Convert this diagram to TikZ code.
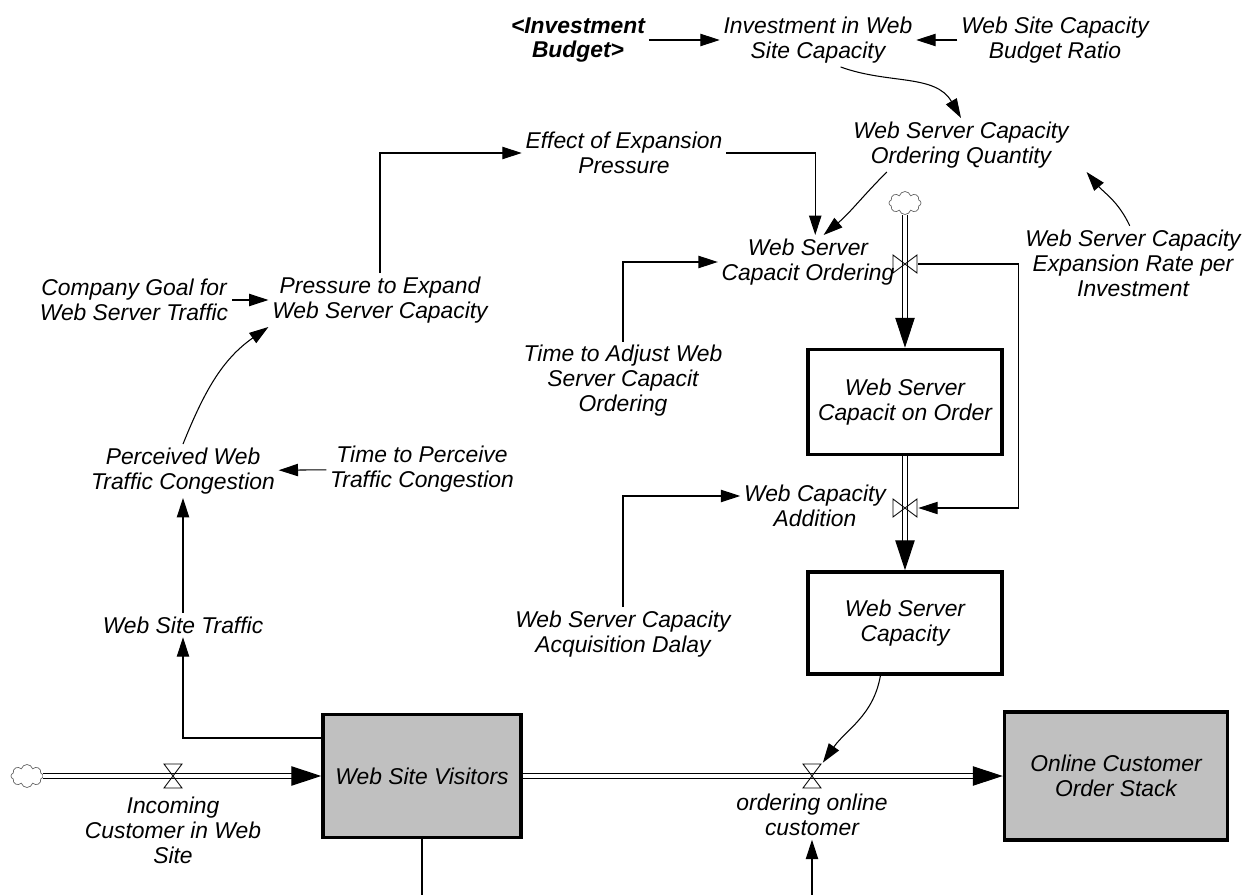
\documentclass[tikz,border=0pt]{standalone}
\usepackage{fontspec}
\setmainfont{Liberation Sans}
\usetikzlibrary{arrows.meta,shapes.symbols,calc}
\definecolor{stockgray}{RGB}{192,192,192}
\tikzstyle{var}=[
        font = \fontsize{13}{14.2}\selectfont\itshape,
        align = center,
        inner sep = 2pt
    ]
\tikzstyle{stock}=[
        draw,
        line width = 2pt,
        font = \fontsize{13}{14.2}\selectfont\itshape,
        align = center,
        fill = white
    ]
\tikzstyle{level}=[
        stock,
        fill = stockgray
    ]
\tikzstyle{link}=[
        line width = 0.6pt,
        -{Triangle[length=11pt,width=7pt]}
    ]
\tikzstyle{pipe}=[
        double,
        double distance = 2.4pt,
        line width = 0.6pt,
        -{Triangle[length=17pt,width=11pt]}
    ]
\tikzstyle{source}=[
        draw = black!60,
        cloud,
        cloud puffs = 8,
        aspect = 1.4,
        minimum width = 0.64cm,
        minimum height = 0.46cm,
        inner sep = 0pt
    ]
\tikzstyle{hvalve}=[
        minimum width = 0.42cm,
        minimum height = 0.52cm,
        inner sep = 0pt,
        path picture = {\draw[line width=0.5pt] (path picture bounding box.center)
            +(-9,-12) -- +(9,-12) -- +(-9,12) -- +(9,12) -- cycle;}
    ]
\tikzstyle{vvalve}=[
        minimum width = 0.52cm,
        minimum height = 0.42cm,
        inner sep = 0pt,
        path picture = {\draw[line width=0.5pt] (path picture bounding box.center)
            +(-12,-9) -- +(-12,9) -- +(12,-9) -- +(12,9) -- cycle;}
    ]

\begin{document}
\begin{tikzpicture}[x=0.02cm, y=-0.02cm]
        \useasboundingbox (0,0) rectangle (1255,895);

        % auxiliaries
        \node[var, font=\fontsize{13}{14.2}\selectfont\bfseries\itshape] (budget) at (578,40) {<Investment\\Budget>};
        \node[var] (invest) at (818,40) {Investment in Web\\Site Capacity};
        \node[var] (ratio) at (1055,40) {Web Site Capacity\\Budget Ratio};
        \node[var] (oq) at (961,145) {Web Server Capacity\\Ordering Quantity};
        \node[var] (effect) at (624,153) {Effect of Expansion\\Pressure};
        \node[var] (ord) at (808,262) {Web Server\\Capacit Ordering};
        \node[var] (exp) at (1133,263) {Web Server Capacity\\Expansion Rate per\\Investment};
        \node[var] (adj) at (623,381) {Time to Adjust Web\\Server Capacit\\Ordering};
        \node[var] (press) at (380,300) {Pressure to Expand\\Web Server Capacity};
        \node[var] (goal) at (134,300) {Company Goal for\\Web Server Traffic};
        \node[var] (perc) at (183,471) {Perceived Web\\Traffic Congestion};
        \node[var] (perceive) at (422,469) {Time to Perceive\\Traffic Congestion};
        \node[var] (traffic) at (183,625) {Web Site Traffic};
        \node[var] (add) at (815,506) {Web Capacity\\Addition};
        \node[var] (acq) at (623,634) {Web Server Capacity\\Acquisition Dalay};

        % stocks
        \node[stock, minimum width=3.88cm, minimum height=2.1cm] (onord) at (905,402) {Web Server\\Capacit on Order};
        \node[stock, minimum width=3.88cm, minimum height=2.04cm] (cap) at (905,623) {Web Server\\Capacity};
        \node[level, minimum width=3.96cm, minimum height=2.46cm] (vis) at (422,776) {Web Site Visitors};
        \node[level, minimum width=4.46cm, minimum height=2.56cm] (stack) at (1116,776) {Online Customer\\Order Stack};

        % clouds
        \node[source] (c1) at (27,776) {};
        \node[source] (c2) at (905,203) {};

        % flows
        \draw[pipe] (c1) -- (vis);
        \draw[pipe] (vis) -- (stack);
        \draw[pipe] (c2) -- (onord);
        \draw[pipe] (onord) -- (cap);

        \node[hvalve] (v0) at (173,776) {};
        \node[hvalve] (v3) at (812,776) {};
        \node[vvalve] (v1) at (905,264) {};
        \node[vvalve] (v2) at (905,508) {};
        \node[var] (incoming) at (173,830) {Incoming\\Customer in Web\\Site};
        \node[var] (ordlbl) at (812,815) {ordering online\\customer};

        % links
        \draw[link] (budget) -- (invest);
        \draw[link] (ratio) -- (invest);
        \draw[link] (invest.-50) to[out=-20,in=120] (oq.north);
        \draw[link] (oq.-160) to[out=-135,in=40] (ord.60);
        \draw[link] (exp.95) to[out=115,in=-50] ($(oq.south east)+(14,0)$);
        \draw[link] (press.north) |- (effect.west);
        \draw[link] (effect.east) -| (ord.75);
        \draw[link] (adj.north) |- (ord.west);
        \draw[link] (v1.east) -- ++(100,0) |- (v2.east);
        \draw[link] (acq.north) |- ([yshift=5.7pt]add.west);
        \draw[link] (goal) -- (press);
        \draw[link] (perc.north) to[out=68,in=-145] (press.south west);
        \draw[link] (perceive) -- (perc);
        \draw[link] (traffic) -- (perc);
        \draw[link] ($(vis.west)+(0,-38)$) -| (traffic.south);
        \draw[link] (cap.-115) to[out=-100,in=55] (v3.north east);
        \draw[link] (vis.south) -- ++(0,80) -| (ordlbl.south);

    \end{tikzpicture}
\end{document}
